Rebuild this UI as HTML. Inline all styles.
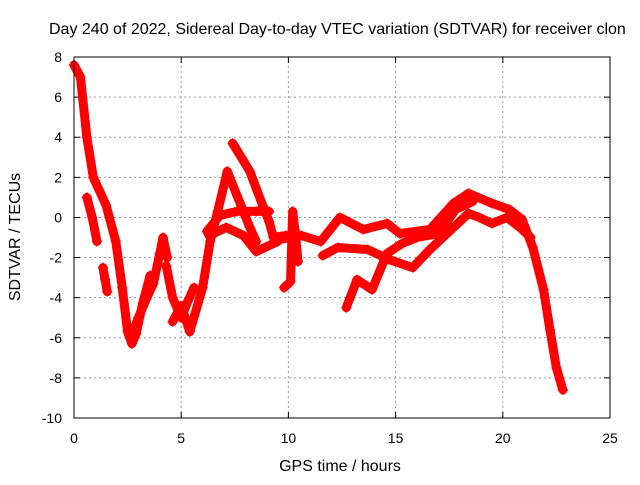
<!DOCTYPE html>
<html><head><meta charset="utf-8"><style>
body{margin:0;background:#fff;}
svg text{font-family:"Liberation Sans",sans-serif;font-size:14px;fill:#000;}
</style></head><body>
<svg id="chart" width="640" height="480" viewBox="0 0 640 480" xmlns="http://www.w3.org/2000/svg">
<rect width="640" height="480" fill="#fff"/>
<text x="49" y="34" style="font-size:16px">Day 240 of 2022, Sidereal Day-to-day VTEC variation (SDTVAR) for receiver clon</text>
<g id="grid"></g><g id="ticks"></g><g id="series"></g>
<rect x="74" y="57" width="536" height="361" fill="none" stroke="#000" stroke-width="1"/>
<text x="20" y="237" transform="rotate(-90 20 237)" text-anchor="middle" style="font-size:16px">SDTVAR / TECUs</text>
<text x="340" y="471" text-anchor="middle" style="font-size:16px">GPS time / hours</text>
</svg>
<script>
const xTicks=[0,5,10,15,20,25];
const yTicks=[-10,-8,-6,-4,-2,0,2,4,6,8];
const trackMainH=[0,0.3,0.6,0.9,1.5,1.95,2.25,2.5,2.7,2.9,3.2,3.55];
const trackMainV=[7.6,7,4.0,2.0,0.6,-1.2,-3.5,-5.7,-6.3,-5.8,-4.3,-2.9];
const trackDropH=[0.6,0.85,1.07];
const trackDropV=[1.0,0,-1.2];
const trackLowH=[1.35,1.45,1.55];
const trackLowV=[-2.5,-3.1,-3.7];
const trackRiseH=[2.7,3.0,3.4,3.7,4.0,4.15,4.35];
const trackRiseV=[-5.9,-5.0,-4.0,-3.3,-1.8,-1.0,-2.0];
const trackBH=[4.6,5.0,5.4,6.0,6.35,6.7,7.15,7.6,8.2,8.5];
const trackBV=[-5.2,-4.4,-5.7,-3.5,-1.2,0.3,2.3,1.1,-0.5,-1.2];
const trackB2H=[4.3,4.6,5.0,5.3,5.6];
const trackB2V=[-2.4,-4.0,-5.0,-4.2,-3.5];
const trackCH=[7.4,7.8,8.2,8.8,9.1,9.3,9.9];
const trackCV=[3.7,3.0,2.3,0.6,-0.2,-1.0,-0.9];
const trackDH=[6.2,6.8,7.6,8.5,9.1];
const trackDV=[-0.7,0.1,0.3,0.3,0.3];
const trackEH=[6.3,7.1,7.9,8.5,9.5];
const trackEV=[-0.9,-0.5,-0.9,-1.7,-1.2];
const trackSpotH=[9.8,10.1,10.2,10.3,10.45];
const trackSpotV=[-3.5,-3.2,0.3,-0.6,-2.2];
const trackR1H=[9.6,10.6,11.5,12.4,13.5,14.6,15.2,16.6,17.7,18.4,19.5,20.3,20.9,21.4,21.9,22.2,22.5,22.8];
const trackR1V=[-1.1,-0.9,-1.2,0.0,-0.6,-0.3,-0.8,-0.6,0.7,1.2,0.7,0.4,-0.1,-1.5,-3.6,-5.6,-7.5,-8.6];
const trackR2H=[11.6,12.3,13.7,14.7,15.8,16.6,17.7,18.4,18.9,19.5,20.2,20.8,21.3];
const trackR2V=[-1.9,-1.5,-1.6,-2.1,-2.5,-1.6,-0.5,0.2,0.0,-0.3,0.0,-0.5,-1.0];
const trackR3H=[12.7,13.2,13.9,14.6,15.3,16.0,17.0,17.8,18.6];
const trackR3V=[-4.5,-3.1,-3.6,-1.8,-1.3,-1.0,-0.8,0.4,0.8];
const tracksH=[trackMainH,trackDropH,trackLowH,trackRiseH,trackBH,trackB2H,trackCH,trackDH,trackEH,trackSpotH,trackR1H,trackR2H,trackR3H];
const tracksV=[trackMainV,trackDropV,trackLowV,trackRiseV,trackBV,trackB2V,trackCV,trackDV,trackEV,trackSpotV,trackR1V,trackR2V,trackR3V];

const X0=74,X1=610,Y0=418,Y1=57;
function xs(h){return X0+(h-0)/(25-0)*(X1-X0);}
function ys(v){return Y0-(v+10)/(18)*(Y0-Y1);}
const NS="http://www.w3.org/2000/svg";
const grid=document.getElementById('grid'),ticks=document.getElementById('ticks'),series=document.getElementById('series');
function mk(t,a){const e=document.createElementNS(NS,t);for(const k in a)e.setAttribute(k,a[k]);return e;}
xTicks.forEach(t=>{
  const x=xs(t);
  if(t>0&&t<25){const g=mk('line',{x1:x,x2:x,y1:Y0,y2:Y1,stroke:'#999','stroke-dasharray':'2,3'});
  
  grid.appendChild(g);}
  const tk=mk('path',{d:`M${x},${Y0}v-6M${x},${Y1}v6`,stroke:'#000'});
  
  ticks.appendChild(tk);
  const l=mk('text',{x:x,y:443,'text-anchor':'middle'});l.textContent=t;
  
  ticks.appendChild(l);
});
yTicks.forEach(t=>{
  const y=ys(t);
  if(t>-10&&t<8){const g=mk('line',{x1:X0,x2:X1,y1:y,y2:y,stroke:'#999','stroke-dasharray':'2,3'});
  
  grid.appendChild(g);}
  const tk=mk('path',{d:`M${X0},${y}h6M${X1},${y}h-6`,stroke:'#000'});
  
  ticks.appendChild(tk);
  const l=mk('text',{x:62,y:y+5,'text-anchor':'end'});l.textContent=t;
  
  ticks.appendChild(l);
});
tracksH.forEach((H,i)=>{
  const V=tracksV[i];
  const pts=H.map((h,j)=>xs(h)+','+ys(V[j])).join(' ');
  const pl=mk('polyline',{points:pts,fill:'none',stroke:'#f00','stroke-width':9,'stroke-linejoin':'round','stroke-linecap':'round'});
  
  
  series.appendChild(pl);
  H.forEach((h,j)=>{
    const x=xs(h),y=ys(V[j]);
    const p=mk('path',{d:`M${x-5},${y}h10M${x},${y-5}v10`,stroke:'#f00','stroke-width':1.5});
    
    
    series.appendChild(p);
  });
});
</script>
</body></html>
